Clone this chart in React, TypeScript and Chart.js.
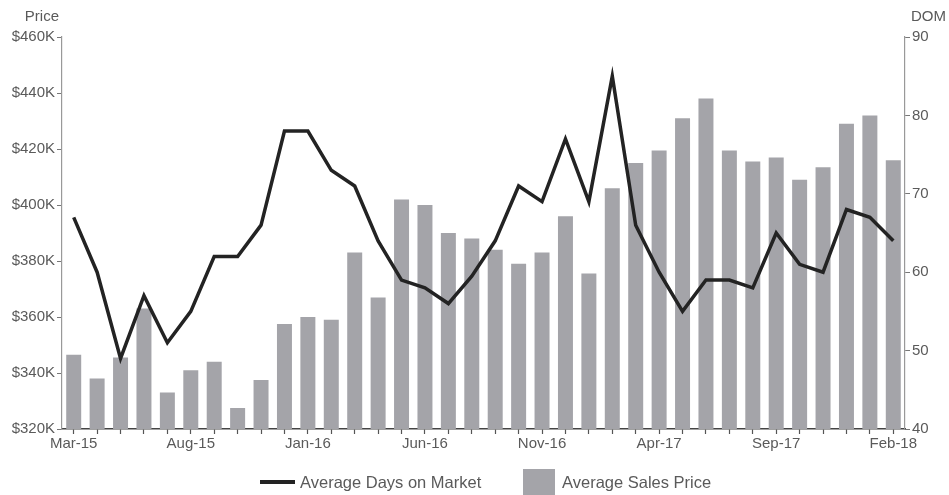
import React, { useEffect, useRef } from "react";
import { Chart, registerables } from "chart.js";

Chart.register(...registerables);

const months: string[] = [
  "Mar-15", "Apr-15", "May-15", "Jun-15", "Jul-15", "Aug-15", "Sep-15", "Oct-15", "Nov-15", "Dec-15",
  "Jan-16", "Feb-16", "Mar-16", "Apr-16", "May-16", "Jun-16", "Jul-16", "Aug-16", "Sep-16", "Oct-16",
  "Nov-16", "Dec-16", "Jan-17", "Feb-17", "Mar-17", "Apr-17", "May-17", "Jun-17", "Jul-17", "Aug-17",
  "Sep-17", "Oct-17", "Nov-17", "Dec-17", "Jan-18", "Feb-18",
];

const avgSalesPrice: number[] = [
  346500, 338000, 345500, 363000, 333000, 341000, 344000, 327500, 337500, 357500,
  360000, 359000, 383000, 367000, 402000, 400000, 390000, 388000, 384000, 379000,
  383000, 396000, 375500, 406000, 415000, 419500, 431000, 438000, 419500, 415500,
  417000, 409000, 413500, 429000, 432000, 416000,
];

const avgDaysOnMarket: number[] = [
  67, 60, 49, 57, 51, 55, 62, 62, 66, 78,
  78, 73, 71, 64, 59, 58, 56, 59.5, 64, 71,
  69, 77, 69, 85, 66, 60, 55, 59, 59, 58,
  65, 61, 60, 68, 67, 64,
];

const priceTicks = { min: 320000, max: 460000, step: 20000 };
const domTicks = { min: 40, max: 90, step: 10 };

const FONT = "'Liberation Sans', Arial, sans-serif";
const TEXT = "#5a5a5a";

const axisTitles = {
  id: "axisTitles",
  afterDraw(chart: any) {
    const ctx = chart.ctx;
    const area = chart.chartArea;
    ctx.save();
    ctx.font = `15px ${FONT}`;
    ctx.fillStyle = TEXT;
    ctx.textBaseline = "middle";
    ctx.textAlign = "right";
    ctx.fillText("Price", area.left - 3, 17);
    ctx.textAlign = "right";
    ctx.fillText("DOM", 946, 17);
    ctx.restore();
  },
};

export default function App() {
  const ref = useRef<HTMLCanvasElement | null>(null);

  useEffect(() => {
    document.body.style.margin = "0";
    if (!ref.current) return;
    const chart = new Chart(ref.current, {
      type: "bar",
      data: {
        labels: months,
        datasets: [
          {
            type: "line",
            label: "Average Days on Market",
            data: avgDaysOnMarket,
            yAxisID: "y1",
            borderColor: "#232323",
            backgroundColor: "#232323",
            borderWidth: 3.5,
            pointRadius: 0,
            tension: 0,
            order: 0,
          } as any,
          {
            type: "bar",
            label: "Average Sales Price",
            data: avgSalesPrice,
            yAxisID: "y",
            backgroundColor: "#a4a4a9",
            categoryPercentage: 1,
            barPercentage: 0.64,
            order: 1,
          },
        ],
      },
      options: {
        animation: false,
        responsive: false,
        maintainAspectRatio: false,
        layout: { padding: { top: 37, left: 0, right: 0, bottom: 0 } },
        plugins: {
          legend: { display: false },
          tooltip: { enabled: false },
        },
        scales: {
          x: {
            offset: true,
            grid: {
              display: true,
              offset: false,
              drawOnChartArea: false,
              drawTicks: true,
              tickLength: 5,
              tickColor: "#555",
              tickWidth: 1.2,
            },
            border: { display: true, color: "#444", width: 1.5 },
            ticks: {
              autoSkip: false,
              maxRotation: 0,
              minRotation: 0,
              padding: 1,
              color: TEXT,
              font: { family: FONT, size: 15 },
              callback: (_v: any, i: number) => (i % 5 === 0 ? months[i] : ""),
            },
            afterFit: (s: any) => {
              s.height = 66;
            },
          },
          y: {
            position: "left",
            min: priceTicks.min,
            max: priceTicks.max,
            grid: {
              display: true,
              drawOnChartArea: false,
              drawTicks: true,
              tickLength: 5,
              tickColor: "#777",
            },
            border: { display: true, color: "#999", width: 1.2 },
            ticks: {
              stepSize: priceTicks.step,
              padding: 2,
              color: TEXT,
              font: { family: FONT, size: 15 },
              callback: (v: any) => `$${Math.round(Number(v) / 1000)}K`,
            },
            afterFit: (s: any) => {
              s.width = 62;
            },
          },
          y1: {
            position: "right",
            min: domTicks.min,
            max: domTicks.max,
            grid: {
              display: true,
              drawOnChartArea: false,
              drawTicks: true,
              tickLength: 5,
              tickColor: "#777",
            },
            border: { display: true, color: "#999", width: 1.2 },
            ticks: {
              stepSize: domTicks.step,
              padding: 2,
              color: TEXT,
              font: { family: FONT, size: 15 },
            },
            afterFit: (s: any) => {
              s.width = 44;
            },
          },
        },
      },
      plugins: [axisTitles],
    });
    return () => chart.destroy();
  }, []);

  return (
    <div style={{ position: "relative", width: 949, height: 495, background: "#fff" }}>
      <canvas ref={ref} width={949} height={495} style={{ display: "block" }} />
      <div
        style={{
          position: "absolute",
          top: 469,
          left: 0,
          width: 949,
          height: 26,
          fontFamily: FONT,
          fontSize: 16.5,
          color: TEXT,
        }}
      >
        <div style={{ position: "absolute", left: 260, top: 13, width: 35, height: 4, marginTop: -2, background: "#232323" }} />
        <div style={{ position: "absolute", left: 300, top: 3, lineHeight: "20px", whiteSpace: "nowrap" }}>
          Average Days on Market
        </div>
        <div style={{ position: "absolute", left: 523, top: 0, width: 32, height: 26, background: "#a4a4a9" }} />
        <div style={{ position: "absolute", left: 562, top: 3, lineHeight: "20px", whiteSpace: "nowrap" }}>
          Average Sales Price
        </div>
      </div>
    </div>
  );
}
